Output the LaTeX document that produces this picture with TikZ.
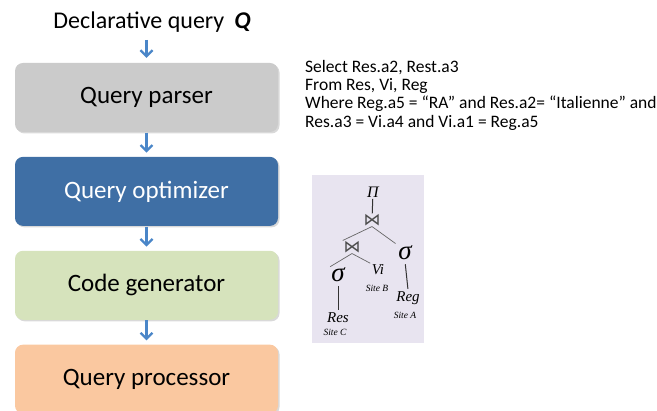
\documentclass[tikz,border=0pt]{standalone}
\usepackage{fontspec}
\setmainfont{Carlito}
\newfontfamily\treefont{Liberation Serif}
\newfontfamily\joinfont{DejaVu Sans}
\usepackage{tikz}
\usetikzlibrary{positioning, arrows.meta, shadows}

\definecolor{parsergray}{RGB}{203,203,203}
\definecolor{optblue}{RGB}{63,111,165}
\definecolor{gengreen}{RGB}{214,227,188}
\definecolor{procpeach}{RGB}{250,200,160}
\definecolor{arrowblue}{RGB}{74,134,200}
\definecolor{treebg}{RGB}{232,228,240}

\begin{document}
\begin{tikzpicture}[x=1pt, y=1pt, >={Straight Barb[length=6pt, width=12pt]}]
\tikzstyle{stage} = [rounded corners=8pt, minimum width=263pt, minimum height=69pt, font=\fontsize{25}{30}\selectfont, drop shadow={shadow xshift=1.5pt, shadow yshift=-1.5pt, opacity=0.3}]
\tikzstyle{flow} = [->, line width=2.3pt, draw=arrowblue, shorten <=0.5pt, shorten >=4pt]
\tikzstyle{op} = [inner sep=1.5pt, font=\treefont\itshape\fontsize{15}{16}\selectfont]
\tikzstyle{sel} = [inner sep=1pt, font=\treefont\itshape\fontsize{27}{28}\selectfont]
\tikzstyle{joinop} = [inner sep=0.5pt, text=black!70, font=\joinfont\fontsize{17}{17}\selectfont]
\tikzstyle{site} = [inner sep=0pt, font=\treefont\itshape\fontsize{9.5}{10}\selectfont]
\tikzstyle{edge} = [draw=black!60, line width=0.7pt]
\tikzstyle{stem} = [draw=black!80, line width=1pt]

\useasboundingbox (0,0) rectangle (657,411);

%pipeline
\node (query) at (152,389) {\fontsize{24}{28}\selectfont Declarative query\hspace{10pt}\textbf{\textit{Q}}};
\node (parser) [stage, fill=parsergray] at (146.5,313.5) {Query parser};
\node (optimizer) [stage, fill=optblue, text=white, below=24.5pt of parser] {Query optimizer};
\node (generator) [stage, fill=gengreen, below=24.5pt of optimizer] {Code generator};
\node (processor) [stage, fill=procpeach, below=24.5pt of generator] {Query processor};

\draw [flow, shorten <=4pt, shorten >=5pt] (query.south -| parser) -- (parser);
\draw [flow] (parser) -- (optimizer);
\draw [flow] (optimizer) -- (generator);
\draw [flow] (generator) -- (processor);

%sql text
\node (sql) [anchor=north west, inner sep=0pt, align=left, font=\fontsize{17.5}{18.3}\selectfont] at (305,351)
{Select Res.a2, Rest.a3\\
From Res, Vi, Reg\\
Where Reg.a5 = “RA” and Res.a2= “Italienne” and\\
Res.a3 = Vi.a4 and Vi.a1 = Reg.a5};

%%tree
\fill [treebg] (312,68) rectangle (424,236);
\node (pi) [op, font=\treefont\itshape\fontsize{16}{18}\selectfont] at (373,219) {Π};
\node (joinA) [joinop] at (372,191) {⋈};
\node (joinB) [joinop] at (352,164) {⋈};
\node (selL) [sel] at (338,136) {σ};
\node (vi) [op] at (378,141) {Vi};
\node (selR) [sel] at (405,158) {σ};
\node (reg) [op] at (408,113) {Reg};
\node (res) [op] at (338,93) {Res};
\node (siteB) [site] at (377,123) {Site B};
\node (siteA) [site] at (405,96) {Site A};
\node (siteC) [site] at (335,79) {Site C};

\draw [stem] (pi) -- (joinA);
\draw [edge] (joinA.south) -- (joinB.north west);
\draw [edge, shorten >=2pt] (joinA.south) -- (selR.north west);
\draw [edge] (joinB.south) -- (selL.north west);
\draw [edge] (joinB.south) -- (vi.north west);
\draw [stem, shorten <=3pt, shorten >=1pt] (selL.south) -- (res.north);
\draw [stem, shorten <=3pt, shorten >=1pt] (selR.south) -- (reg.north);

\end{tikzpicture}
\end{document}
